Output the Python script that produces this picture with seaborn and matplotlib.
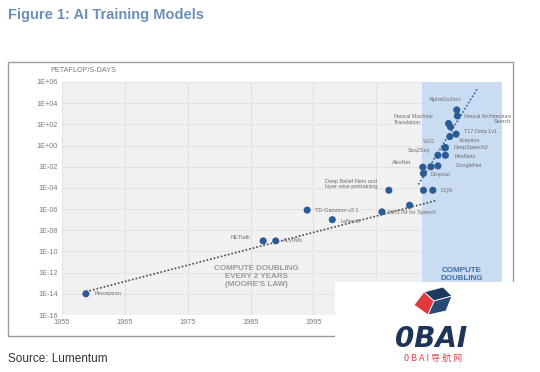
import matplotlib
matplotlib.use("Agg")
import matplotlib.pyplot as plt
import matplotlib.ticker as mticker
from matplotlib.patches import Rectangle, Polygon
import numpy as np
import pandas as pd
import seaborn as sns

W, H = 540, 372

# data (year, petaflop/s-days)
model_names = [
    "Perceptron", "NETtalk", "ALVINN", "TD-Gammon v2.1", "LeNet-5", "BiLSTM for Speech", "",
    "Deep Belief Nets and\nlayer-wise pretraining", "DQN", "", "Dropout", "AlexNet", "", "GoogleNet",
    "Seq2Seq", "ResNets", "VGG", "DeepSpeech2", "Xception", "T17 Dota 1v1", "",
    "Neural Machine\nTranslation", "Neural Architecture\nSearch", "AlphaGoZero",
]
model_years = [
    1958.8, 1987.0, 1989.0, 1994.0, 1998.0, 2005.9, 2010.3,
    2007.0, 2012.5, 2014.0, 2012.5, 2012.4, 2013.7, 2014.8,
    2014.8, 2016.0, 2015.9, 2016.0, 2016.7, 2017.7, 2016.8,
    2016.5, 2017.9, 2017.8,
]
model_compute = [
    1e-14, 1e-9, 1e-9, 8e-7, 1e-7, 5.5e-7, 2.3e-6,
    6e-5, 6e-5, 6e-5, 2.3e-3, 9e-3, 1e-2, 1.2e-2,
    0.12, 0.12, 0.6, 0.65, 7, 12, 58,
    120, 630, 2300,
]

moore_years = [1958.8, 2014.7]
moore_compute = [1.6e-14, 6.9e-6]
fast_years = [2011.7, 2021.1]
fast_compute = [2.1e-4, 2.5e5]

year_ticks = list(range(1955, 2026, 10))
exp_ticks = list(range(-16, 7, 2))

# label placement: (dx px, dy px, ha)
label_pos = [
    (9, 0, "left"), (-13, 3, "right"), (7, 0, "left"), (8, 0, "left"), (8, -2, "left"),
    (6, -1, "left"), None, (-11, 6, "right"), (17, 0, "left"), None, (7, -1, "left"),
    (-12, 5, "right"), None, (18, 0, "left"), (-8, 5, "right"), (9, -1, "left"),
    (-10, 6, "right"), (8, 0, "left"), (9, -4, "left"), (8, 3, "left"), None,
    (-16, 4, "right"), (7, -3, "left"), (5, 10, "right"),
]

sns.set_style("whitegrid", {"axes.facecolor": "#f1f1f1", "grid.color": "#e2e2e2"})
plt.rcParams["font.family"] = ["Liberation Sans", "DejaVu Sans", "Noto Sans CJK SC"]

fig = plt.figure(figsize=(W / 100, H / 100), dpi=100)
ax = fig.add_axes([62 / W, 1 - 315 / H, 440 / W, 233 / H])


def px(x, y):
    return x / W, 1 - y / H


models = pd.DataFrame({"name": model_names, "year": model_years, "compute": model_compute})
moore = pd.DataFrame({"year": moore_years, "compute": moore_compute})
fast = pd.DataFrame({"year": fast_years, "compute": fast_compute})

ax.set_yscale("log")
ax.axvspan(2012.3, 2025, color="#c9dcf2", zorder=1, lw=0)
sns.lineplot(data=moore, x="year", y="compute", ax=ax, color="#4a4a4a",
             linestyle=(0, (1, 1.2)), linewidth=1.2, zorder=2)
sns.lineplot(data=fast, x="year", y="compute", ax=ax, color="#2f62a0",
             linestyle=(0, (1, 1.2)), linewidth=1.2, zorder=2)
sns.scatterplot(data=models, x="year", y="compute", ax=ax, color="#2c5c96",
                s=26, edgecolor="none", zorder=3)

for (name, yr, val), pos in zip(models[["name", "year", "compute"]].values, label_pos):
    if pos is None:
        continue
    dx, dy, ha = pos
    ax.annotate(name, (yr, val), xytext=(dx, dy), textcoords="offset pixels",
                ha=ha, va="center", fontsize=4, color="#6e6e6e", linespacing=1.1,
                multialignment="right" if "Search" in name else "left", zorder=4)

ax.text((256 - 62) / 440, 1 - (277 - 82) / 233, "COMPUTE DOUBLING\nEVERY 2 YEARS\n(MOORE'S LAW)",
        transform=ax.transAxes, ha="center", va="center", fontsize=5.8, fontweight="bold",
        color="#9a9a9a", linespacing=1.2)
ax.text((462 - 62) / 440, 1 - (274 - 82) / 233, "COMPUTE\nDOUBLING",
        transform=ax.transAxes, ha="center", va="center", fontsize=5.8, fontweight="bold",
        color="#3d6fa6", linespacing=1.2)

ax.set_xlim(1955, 2025)
ax.set_ylim(1e-16, 1e6)
ax.set_xticks(year_ticks)
ax.set_yticks([10.0 ** e for e in exp_ticks])
ax.yaxis.set_major_formatter(mticker.FuncFormatter(lambda v, p: f"1E{int(round(np.log10(v))):+03d}"))
ax.yaxis.set_minor_locator(mticker.NullLocator())
ax.tick_params(labelsize=5.2, labelcolor="#7a7a7a", length=0, pad=3)
ax.set_xlabel("")
ax.set_ylabel("")
ax.grid(True, linewidth=0.8)
ax.set_axisbelow(True)
for s in ax.spines.values():
    s.set_visible(False)

fig.text(*px(50, 71), "PETAFLOP/S-DAYS", fontsize=5.2, color="#7a7a7a", va="center")

# outer frame
fig.patches.append(Rectangle(px(8, 336), 505 / W, 274 / H, transform=fig.transFigure,
                             fill=False, edgecolor="#9c9c9c", linewidth=1.0, zorder=5))

fig.text(*px(8, 15), "Figure 1: AI Training Models", fontsize=10.5, fontweight="bold",
         color="#6a8fb8", va="center")
fig.text(*px(8, 359), "Source: Lumentum", fontsize=8.5, color="#333333", va="center")

# watermark block in lower right
fig.patches.append(Rectangle(px(335, 372), (W - 335) / W, (372 - 282) / H, transform=fig.transFigure,
                             facecolor="white", edgecolor="none", zorder=10))
cube_top = [px(424, 292), px(443, 287), px(452, 296), px(434, 301)]
cube_left = [px(424, 292), px(434, 301), px(428, 315), px(414, 305)]
cube_right = [px(434, 301), px(452, 296), px(446, 311), px(428, 315)]
for pts, c in [(cube_top, "#1f3a5f"), (cube_left, "#e0393e"), (cube_right, "#2b4a73")]:
    fig.patches.append(Polygon(pts, closed=True, transform=fig.transFigure,
                               facecolor=c, edgecolor="white", linewidth=0.6, zorder=11))
fig.text(*px(431, 339), "0BAI", fontsize=20, fontweight="bold", fontstyle="italic",
         color="#1e3558", ha="center", va="center", family="DejaVu Sans", zorder=11)
fig.text(*px(433, 358), "0 B A I 导 航 网", fontsize=6.5, color="#e0474c", ha="center", va="center",
         family=["Noto Sans CJK SC", "DejaVu Sans"], zorder=11)

fig.savefig("out.png", dpi=100)
